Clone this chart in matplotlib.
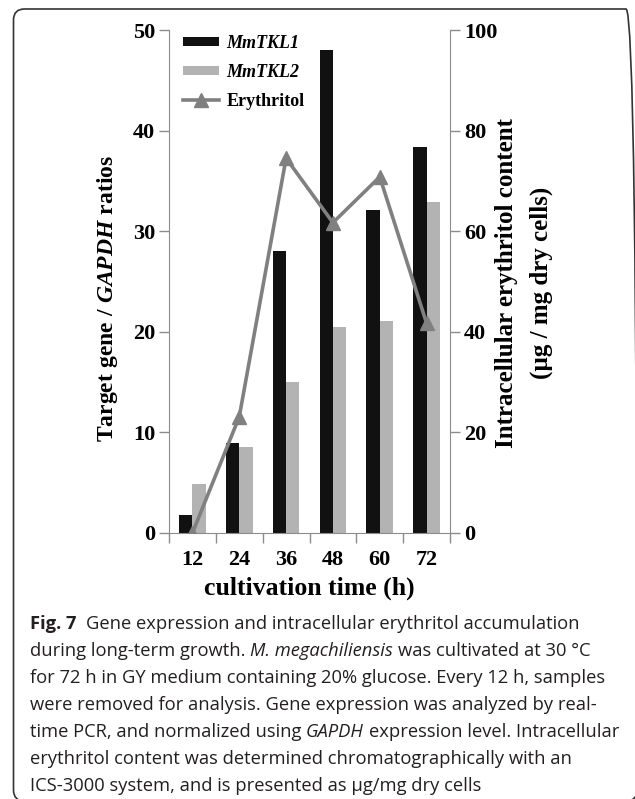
import numpy as np
import matplotlib
matplotlib.use('Agg')
import matplotlib.pyplot as plt
from matplotlib.patches import FancyBboxPatch
from matplotlib.transforms import IdentityTransform
from matplotlib.font_manager import FontProperties

# values
hours = ['12', '24', '36', '48', '60', '72']
tkl1 = [1.8, 8.9, 28.0, 48.0, 32.1, 38.4]
tkl2 = [4.9, 8.5, 15.0, 20.5, 21.1, 32.9]
erythritol = [0.0, 23.1, 74.5, 61.7, 70.8, 41.7]

caption = [
    [('Fig. 7', 'normal', 'bold'), ('  Gene expression and intracellular erythritol accumulation', 'normal', 'normal')],
    [('during long-term growth. ', 'normal', 'normal'), ('M. megachiliensis', 'italic', 'normal'),
     (' was cultivated at 30 °C', 'normal', 'normal')],
    [('for 72 h in GY medium containing 20% glucose. Every 12 h, samples', 'normal', 'normal')],
    [('were removed for analysis. Gene expression was analyzed by real-', 'normal', 'normal')],
    [('time PCR, and normalized using ', 'normal', 'normal'), ('GAPDH', 'italic', 'normal'),
     (' expression level. Intracellular', 'normal', 'normal')],
    [('erythritol content was determined chromatographically with an', 'normal', 'normal')],
    [('ICS-3000 system, and is presented as µg/mg dry cells', 'normal', 'normal')],
]

plt.rcParams['font.family'] = 'Liberation Serif'
plt.rcParams['font.weight'] = 'bold'
plt.rcParams['font.size'] = 16
plt.rcParams['mathtext.fontset'] = 'custom'
plt.rcParams['mathtext.rm'] = 'Liberation Serif:bold'
plt.rcParams['mathtext.bf'] = 'Liberation Serif:bold'
plt.rcParams['mathtext.it'] = 'Liberation Serif:bold:italic'

W, H = 635, 799
fig = plt.figure(figsize=(W / 100, H / 100), dpi=100)
spine_c = '#8c8c8c'

ax = fig.add_axes([169 / W, 1 - 533 / H, (450 - 169) / W, (533 - 30) / H])
ax2 = ax.twinx()

x = np.arange(len(hours))
bw = 0.2857
ax.bar(x - bw / 2, tkl1, bw, color='#111111', label='MmTKL1')
ax.bar(x + bw / 2, tkl2, bw, color='#b3b3b3', label='MmTKL2')
ax2.plot(x, erythritol, color='#808080', lw=2.6, marker='^', ms=10, label='Erythritol')

ax.set_xlim(-0.5, len(hours) - 0.5)
ax.set_ylim(0, 50)
ax2.set_ylim(0, 100)
ax.set_yticks(range(0, 51, 10))
ax2.set_yticks(range(0, 101, 20))
ax.set_xticks(x)
ax.set_xticklabels(hours)
ax.set_xticks(np.arange(-0.5, len(hours)), minor=True)
ax.tick_params(axis='x', which='major', length=0, pad=12)
ax.tick_params(axis='x', which='minor', length=7, width=1, color=spine_c)
ax.tick_params(axis='y', length=7, width=1, color=spine_c, pad=3)
ax2.tick_params(axis='y', length=7, width=1, color=spine_c, pad=3)

for s in ['top', 'right']:
    ax.spines[s].set_visible(False)
for s in ['top', 'left', 'bottom']:
    ax2.spines[s].set_visible(False)
ax.spines['left'].set_color(spine_c)
ax.spines['bottom'].set_color(spine_c)
ax2.spines['right'].set_color(spine_c)

ax.set_xlabel('cultivation time (h)', fontsize=18.5, fontweight='bold', labelpad=5)
fig.text(107 / W, 1 - 298 / H, r'$\mathrm{Target\ gene\ /\ }\mathit{GAPDH}\mathrm{\ ratios}$',
         fontsize=17, rotation=90, ha='center', va='center')
fig.text(506 / W, 1 - 283 / H, 'Intracellular erythritol content', fontsize=18,
         rotation=90, ha='center', va='center')
fig.text(541 / W, 1 - 283 / H, '(µg / mg dry cells)', fontsize=18,
         rotation=90, ha='center', va='center')

h1, l1 = ax.get_legend_handles_labels()
h2, l2 = ax2.get_legend_handles_labels()
leg = ax2.legend(h1 + h2, l1 + l2, loc='upper left', bbox_to_anchor=(0.05, 0.99),
                 frameon=False, fontsize=13, handlelength=2.0, handleheight=0.45,
                 handletextpad=0.4, labelspacing=0.66, borderaxespad=0, borderpad=0)
for t in leg.get_texts()[:2]:
    t.set_fontstyle('italic')

# outer rounded frame
frame = FancyBboxPatch((13.5, -2), 637 - 13.5, 790 + 2, boxstyle='round,pad=0,rounding_size=11',
                       transform=IdentityTransform(), fill=False, ec='#333333', lw=1.2)
fig.add_artist(frame)

# caption, drawn piece by piece so bold and italic can be mixed
r = fig.canvas.get_renderer()


def text_w(s, fp):
    t = fig.text(0, 0, s, fontproperties=fp)
    w = t.get_window_extent(r).width
    t.remove()
    return w


def fp_for(size, style, weight):
    return FontProperties(family='Open Sans', size=size, style=style, weight=weight)


base = 13
w1 = sum(text_w(s.strip(), fp_for(base, st, wt)) for s, st, wt in caption[0]) + \
    2 * (text_w('n n', fp_for(base, 'normal', 'normal')) - text_w('nn', fp_for(base, 'normal', 'normal')))
cap_size = base * 547 / w1

for i, line in enumerate(caption):
    xp = 30
    yb = 629 + 27 * i
    for s, st, wt in line:
        fp = fp_for(cap_size, st, wt)
        sp = text_w('n n', fp) - text_w('nn', fp)
        core = s.strip(' ')
        lead = len(s) - len(s.lstrip(' '))
        trail = len(s) - len(s.rstrip(' '))
        xp += lead * sp
        fig.text(xp / W, 1 - yb / H, core, fontproperties=fp, color='#231f20',
                 ha='left', va='baseline')
        xp += text_w(core, fp) + trail * sp

fig.savefig('out.png', dpi=100)
